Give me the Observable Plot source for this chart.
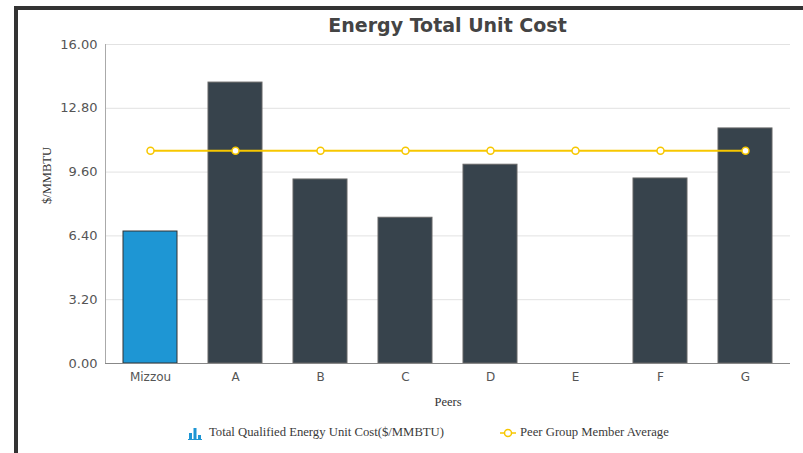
<!DOCTYPE html>
<html>
<head>
<meta charset="utf-8">
<script src="https://cdn.jsdelivr.net/npm/d3@7"></script>
<script src="https://cdn.jsdelivr.net/npm/@observablehq/plot@0.6"></script>
<style>
  html, body { margin: 0; padding: 0; background: #fff; }
  body { width: 803px; height: 453px; position: relative; overflow: hidden; }
  #frame { position: absolute; left: 14px; top: 6px; width: 800px; height: 460px;
           border-left: 4px solid #333; border-top: 4px solid #333; box-sizing: border-box; }
  #title { position: absolute; left: 105px; width: 685px; top: 14px; text-align: center;
           font-family: "DejaVu Sans", Verdana, sans-serif; font-weight: bold; font-size: 19px; color: #444; }
  #chart { position: absolute; left: 0; top: 30px; }
  #legend { position: absolute; top: 424px; left: 0; width: 803px; height: 20px;
            font-family: "Liberation Serif", "Times New Roman", serif; font-size: 12.7px; color: #3a3a3a; }
  .item { position: absolute; display: flex; align-items: center; white-space: nowrap; }
</style>
</head>
<body>
<div id="frame"></div>
<div id="title">Energy Total Unit Cost</div>
<div id="chart"></div>
<div id="legend">
  <div class="item" style="left:188px; top:1px;">
    <svg width="14" height="14" style="margin-right:7px">
      <rect x="1" y="7" width="3" height="6" fill="#1e96d4"/>
      <rect x="5.5" y="2" width="3" height="11" fill="#1e96d4"/>
      <rect x="10" y="9" width="3" height="4" fill="#1e96d4"/>
      <rect x="0" y="13" width="14" height="1" fill="#1e96d4"/>
    </svg>
    <span>Total Qualified Energy Unit Cost($/MMBTU)</span>
  </div>
  <div class="item" style="left:500px; top:1px;">
    <svg width="16" height="14" style="margin-right:4px">
      <line x1="0" y1="7" x2="16" y2="7" stroke="#f7c700" stroke-width="1.5"/>
      <circle cx="8" cy="7" r="3.5" fill="#fff" stroke="#f7c700" stroke-width="1.5"/>
    </svg>
    <span>Peer Group Member Average</span>
  </div>
</div>
<script>
const peers = ["Mizzou", "A", "B", "C", "D", "E", "F", "G"];
const unitCost = [6.62, 14.09, 9.23, 7.31, 9.97, null, 9.28, 11.79];
const peerAverage = [10.67, 10.67, 10.67, 10.67, 10.67, 10.67, 10.67, 10.67];
const yTicks = [0, 3.2, 6.4, 9.6, 12.8, 16];
const highlightPeer = "Mizzou";

const bars = peers.map((p, i) => ({peer: p, value: unitCost[i]})).filter(d => d.value != null);
const avg = peers.map((p, i) => ({peer: p, value: peerAverage[i]}));

const chart = Plot.plot({
  width: 803,
  height: 390,
  marginLeft: 105,
  marginRight: 13,
  marginTop: 14,
  marginBottom: 57,
  style: {fontFamily: "DejaVu Sans, Verdana, sans-serif", fontSize: "12px", color: "#555", background: "transparent", overflow: "visible"},
  x: {domain: peers, paddingInner: 0.37, paddingOuter: 0.185, label: null},
  y: {domain: [0, 16], label: null},
  marks: [
    Plot.gridY(yTicks, {stroke: "#e2e2e2", strokeOpacity: 1}),
    Plot.axisY(yTicks, {tickSize: 0, tickPadding: 8, tickFormat: d3.format(".2f"), fontSize: 13, label: null}),
    Plot.axisX({tickSize: 0, tickPadding: 9, label: null}),
    Plot.barY(bars, {x: "peer", y: "value", fill: d => d.peer === highlightPeer ? "#1e96d4" : "#37434c",
      stroke: d => d.peer === highlightPeer ? "#333" : "#666", strokeWidth: 1}),
    Plot.frame({anchor: "left", stroke: "#aaa"}),
    Plot.ruleY([0], {stroke: "#888"}),
    Plot.line(avg, {x: "peer", y: "value", stroke: "#f7c700", strokeWidth: 2}),
    Plot.dot(avg, {x: "peer", y: "value", r: 3.5, fill: "#fff", stroke: "#f7c700", strokeWidth: 1.5}),
    Plot.text(["$/MMBTU"], {frameAnchor: "left", dx: -59, rotate: -90, fontFamily: "Liberation Serif, Times New Roman, serif", fontSize: 12.5, fill: "#333"}),
    Plot.text(["Peers"], {frameAnchor: "bottom", dy: 42, fontFamily: "Liberation Serif, Times New Roman, serif", fontSize: 12.5, fill: "#333"})
  ]
});
document.getElementById("chart").appendChild(chart);
</script>
</body>
</html>
